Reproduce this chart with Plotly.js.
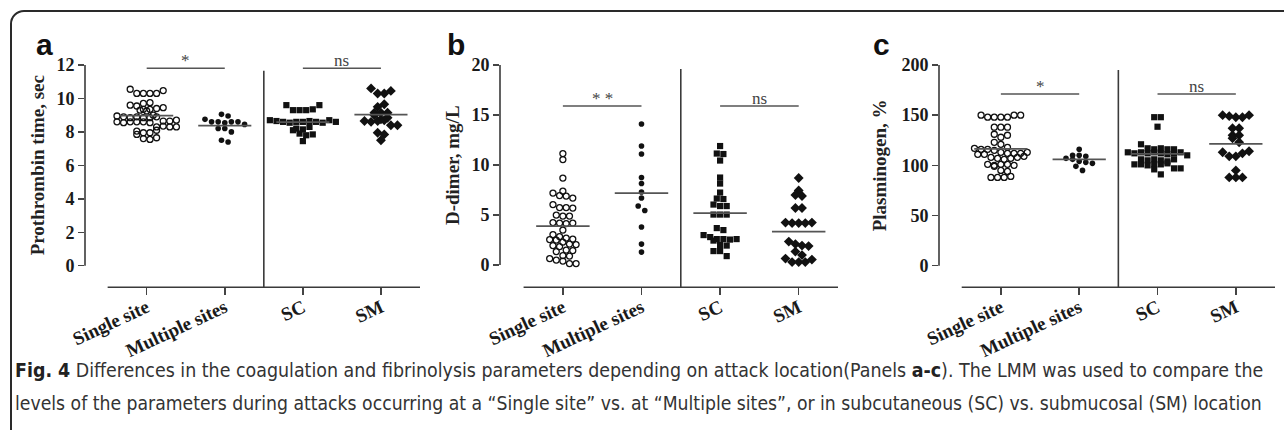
<!DOCTYPE html>
<html><head><meta charset="utf-8">
<script src="https://cdn.plot.ly/plotly-3.0.1.min.js"></script>
<style>
html,body{margin:0;padding:0;background:#fff;}
#wrap{position:relative;width:1284px;height:430px;overflow:hidden;background:#fff;}
#chart{position:absolute;left:0;top:0;width:1284px;height:430px;}
#frame{position:absolute;left:10px;top:10px;width:1400px;height:500px;border:2px solid #2a2a2a;border-top-left-radius:14px;box-sizing:border-box;pointer-events:none;}
.cap{position:absolute;left:15px;white-space:nowrap;font-family:'Liberation Sans Narrow','DejaVu Sans Condensed','Roboto Condensed','Liberation Sans',sans-serif;font-size:20px;line-height:24px;color:#333;transform-origin:0 0;}
.cap b{color:#222;}
</style></head><body>
<div id="wrap"><div id="chart"></div><div id="frame"></div>
<div class="cap" id="cap1"><b>Fig. 4</b> Differences in the coagulation and fibrinolysis parameters depending on attack location(Panels <b>a-c</b>). The LMM was used to compare the</div>
<div class="cap" id="cap2">levels of the parameters during attacks occurring at a “Single site” vs. at “Multiple sites”, or in subcutaneous (SC) vs. submucosal (SM) location</div>
</div>
<script>
// ---------- data ----------
const categories = ['Single site', 'Multiple sites', 'SC', 'SM'];
const panelLetters = ['a', 'b', 'c'];
const yTitles = ['Prothrombin time, sec', 'D-dimer, mg/L', 'Plasminogen, %'];
const sigLabels = [['*', 'ns'], ['* *', 'ns'], ['*', 'ns']];
const sigLevels = [11.8, 15.9, 171];

const a_single = [10.55,10.3,10.3,10.3,10.3,10.47, 9.7,9.6,9.55,9.75, 9.35,9.3,9.25,9.35,9.4,9.45, 8.95,8.9,8.85,8.9,8.85,8.85,8.9,9.0, 8.6,8.65,8.55,8.6,8.6,8.6,8.65,8.55,8.7, 8.3,8.35,8.3,8.3, 8.05,7.95,7.95,8.1, 7.85, 7.6,7.55,7.65];
const a_multi = [9.05,8.95,8.75,8.6,8.6,8.55,8.6,8.6,8.45,8.2,8.2,8.0,7.5,7.4];
const a_sc = [9.6,9.3,9.3,9.3,9.35,9.6, 8.7,8.65,8.6,8.55,8.6,8.6,8.65,8.6,8.55,8.7,8.6, 8.2,8.1,8.15,8.3, 7.9,7.8,7.85, 7.45];
const a_sm = [10.6,10.3,10.3,10.45, 9.5,9.65, 9.15,9.15,9.15, 9.0, 8.75,8.65,8.6,8.65,8.7,8.85, 8.4,8.4, 7.95,7.85, 7.5];
const a_means = [8.97, 8.37, 8.58, 9.03];

const b_single = [11.15,10.55,8.7,7.4,7.2,6.95,6.9,6.7,6.05,5.75,5.75,5.7,5.0,4.9,4.9,4.25,4.2,4.15,4.2,3.5,3.05,2.85,2.7,2.6,2.55,2.5,2.3,2.1,2.05,1.95,1.85,1.5,1.45,1.35,0.95,0.9,0.65,0.5,0.4,0.15,0.15];
const b_multi = [14.1,11.9,11.1,8.75,8.15,7.3,6.7,5.9,5.45,3.8,2.1,1.3];
const b_sc = [11.9,11.15,11.1,10.45,8.75,8.15,7.25,6.65,6.6,6.05,5.9,5.9,5.05,5.05,5.05,3.7,3.5,3.0,2.8,2.6,2.6,2.55,2.6,2.45,2.0,1.95,1.4,1.4,0.9];
const b_sm = [8.7,7.45,7.0,6.9,5.7,5.7,4.25,4.2,4.2,4.2,4.25,2.35,2.1,1.95,1.9,1.35,1.0,0.65,0.3,0.3,0.3,0.55];
const b_means = [3.9, 7.2, 5.2, 3.35];

const c_single = [150,148,148,148,148,150,150, 138,138,138, 131,128,130, 123,121, 118,117,116,116,115, 113,112,112,112,111,111,113, 108,107,106,107,108,109, 101,100,101,99,101,100, 95,94, 88,88,88,89];
const c_multi = [116,110,110,109,107,106,104,103,102,99,95];
const c_sc = [148,148,138.5,121, 117,116,117,116,116, 113,112,113,112,113,112,111,112,113, 110, 106,105,106,105,104,106, 101,101,100,101,101,102, 97,96,97, 91];
const c_sm = [150,149,148,148,150, 137,137, 130,127,130, 123, 113,109,109,112,114, 95, 88,88,88];
const c_means = [116.5, 106, 111.5, 121.5];

const panelData = [[a_single,a_multi,a_sc,a_sm],[b_single,b_multi,b_sc,b_sm],[c_single,c_multi,c_sc,c_sm]];
const panelMeans = [a_means, b_means, c_means];

// ---------- layout config ----------
const W = 1284, H = 430;
const cfg = [
  {xpx:[85,420],  xr:[-0.79,3.5], yr:[-1.29,12],  dtick:2,  ytop:12,  sepTop:11.65, titleX:37,  labelX:45},
  {xpx:[500,838], xr:[-0.8,3.5],  yr:[-2.22,20],  dtick:5,  ytop:20,  sepTop:19.6,  titleX:452, labelX:456},
  {xpx:[939,1275],xr:[-0.79,3.5], yr:[-21.5,200], dtick:50, ytop:200, sepTop:195,   titleX:879, labelX:881}
];
const yDomPx = [65, 287.3];
const ydom = [1 - yDomPx[1]/H, 1 - yDomPx[0]/H];
const symbols = ['circle-open','circle','square','diamond'];
const msizes = [6, 5.6, 6.2, 7.6];

// GraphPad-like scatter: group close values into rows, spread each row centred
function swarm(vals, center, ppx, ppy, h, d){
  const order = vals.map((v,i)=>i).sort((a,b)=>vals[a]-vals[b]);
  const groups = []; let cur = null, start = null;
  order.forEach(i => {
    if (cur === null || (vals[i]-start)*ppy >= h){ cur = []; groups.push(cur); start = vals[i]; }
    cur.push(i);
  });
  const xs = new Array(vals.length);
  groups.forEach(g => {
    const ids = g.slice().sort((a,b)=>a-b);
    const n = ids.length;
    ids.forEach((id, j) => { xs[id] = center + ((j - (n-1)/2) * d) / ppx; });
  });
  return xs;
}

const traces = [], shapes = [], annotations = [];
const layout = {width:W, height:H, margin:{l:0,r:0,t:0,b:0}, showlegend:false,
  paper_bgcolor:'#fff', plot_bgcolor:'rgba(0,0,0,0)'};
const tf = (sz) => ({family:'Liberation Serif, Times New Roman, serif', size:sz, color:'#1a1a1a', weight:700});

cfg.forEach((c, p) => {
  const sfx = p===0 ? '' : String(p+1);
  const xd = [c.xpx[0]/W, c.xpx[1]/W];
  layout['xaxis'+sfx] = {domain:xd, range:c.xr, anchor:'y'+sfx, showgrid:false, zeroline:false, showline:false,
    tickmode:'array', tickvals:[0,1,2,3], ticktext:categories, ticks:'outside', ticklen:7, tickwidth:1.5, tickcolor:'#444',
    tickangle:-25, tickfont:tf(19), ticklabelstandoff:-6, fixedrange:true};
  layout['yaxis'+sfx] = {domain:ydom, range:c.yr, anchor:'x'+sfx, showgrid:false, zeroline:false, showline:false,
    tickmode:'linear', tick0:0, dtick:c.dtick, ticks:'outside', ticklen:6, tickwidth:1.5, tickcolor:'#444',
    tickfont:tf(18), fixedrange:true};
  const ppx = (c.xpx[1]-c.xpx[0])/(c.xr[1]-c.xr[0]);
  const ppy = (yDomPx[1]-yDomPx[0])/(c.yr[1]-c.yr[0]);
  const px = v => xd[0] + (v-c.xr[0])/(c.xr[1]-c.xr[0])*(xd[1]-xd[0]);
  const py = v => ydom[0] + (v-c.yr[0])/(c.yr[1]-c.yr[0])*(ydom[1]-ydom[0]);
  const ln = {color:'#3a3a3a', width:1.6};
  shapes.push({type:'line', xref:'paper', yref:'paper', x0:px(c.xr[0]), x1:px(c.xr[0]), y0:py(0), y1:py(c.ytop), line:ln});
  shapes.push({type:'line', xref:'paper', yref:'paper', x0:px(-0.5), x1:px(c.xr[1]), y0:py(c.yr[0]), y1:py(c.yr[0]), line:ln});
  shapes.push({type:'line', xref:'paper', yref:'paper', x0:px(1.5), x1:px(1.5), y0:py(c.yr[0]), y1:py(c.sepTop), line:ln});
  panelData[p].forEach((vals, g) => {
    const xs = swarm(vals, g, ppx, ppy, 5.5, 6.6);
    const mk = {symbol:symbols[g], size:msizes[g], color:'#111'};
    mk.line = g===0 ? {width:1.3, color:'#111'} : {width:0};
    traces.push({type:'scatter', mode:'markers', x:xs, y:vals, xaxis:'x'+sfx, yaxis:'y'+sfx, marker:mk, hoverinfo:'y', cliponaxis:false});
  });
  panelMeans[p].forEach((m, g) => {
    traces.push({type:'scatter', mode:'lines', x:[g-0.34, g+0.34], y:[m, m], xaxis:'x'+sfx, yaxis:'y'+sfx,
      line:{color:'#555', width:1.7}, hoverinfo:'skip'});
  });
  [[0,1],[2,3]].forEach((pr, k) => {
    traces.push({type:'scatter', mode:'lines', x:pr, y:[sigLevels[p], sigLevels[p]], xaxis:'x'+sfx, yaxis:'y'+sfx,
      line:{color:'#555', width:1.5}, hoverinfo:'skip'});
    annotations.push({xref:'x'+sfx, yref:'y'+sfx, x:(pr[0]+pr[1])/2, y:sigLevels[p], yanchor:'bottom', yshift:-4,
      text:sigLabels[p][k], showarrow:false, font:{family:'Liberation Serif', size:17, color:'#444'}});
  });
  annotations.push({xref:'paper', yref:'y'+sfx, x:c.titleX/W, y:c.ytop/2, xanchor:'center', yanchor:'middle', textangle:-90,
    text:yTitles[p], showarrow:false, font:{family:'Liberation Serif', size:19, color:'#222', weight:700}});
  annotations.push({xref:'paper', yref:'paper', x:c.labelX/W, y:1-44/H, xanchor:'center', yanchor:'middle',
    text:panelLetters[p], showarrow:false, font:{family:'Liberation Sans', size:30, color:'#111', weight:700}});
});
layout.shapes = shapes; layout.annotations = annotations;

Plotly.newPlot('chart', traces, layout, {staticPlot:true, displayModeBar:false});

function fitCap(id, top, target){
  const el = document.getElementById(id);
  el.style.top = top + 'px';
  const w = el.scrollWidth;
  if (w > 0) el.style.transform = 'scaleX(' + (target / w) + ')';
}
fitCap('cap1', 358, 1248);
fitCap('cap2', 391, 1247);
</script>
</body></html>
